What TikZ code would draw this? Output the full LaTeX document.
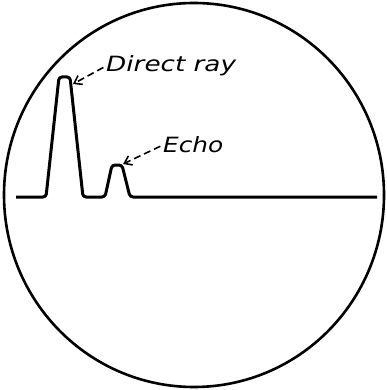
\documentclass[tikz,border=0pt]{standalone}
\usepackage{fontspec}
\setmainfont{DejaVu Sans}
\usetikzlibrary{arrows.meta}
\tikzset{
  trace/.style={line width=3pt, rounded corners=3pt, line join=round},
  lbl/.style={anchor=west, inner sep=0pt, font=\fontsize{21}{24}\selectfont\itshape},
  pointer/.style={line width=1.6pt, dash pattern=on 7pt off 4pt, shorten <=3pt, -{Straight Barb[length=7pt,width=10pt,line width=1.6pt]}}
}
\begin{document}
\begin{tikzpicture}[x=1pt,y=-1pt]
\useasboundingbox (0,0) rectangle (387,390);
\draw[line width=2.6pt] (194,195) ellipse [x radius=190, y radius=192];
\draw[trace] (16,197) -- (46,197) -- (59,77) -- (70,77) -- (83,197) -- (105,197) -- (112,165) -- (122,165) -- (130,197) -- (377,197);
\coordinate (peak1) at (73,84);
\coordinate (peak2) at (123,164);
\node[lbl] (direct) at (106,66) {\scalebox{1.25}[1]{Direct ray}};
\node[lbl] (echo) at (163,145) {\scalebox{1.18}[1]{Echo}};
\draw[pointer] (direct.west) -- (peak1);
\draw[pointer] (echo.west) -- (peak2);
\end{tikzpicture}
\end{document}
